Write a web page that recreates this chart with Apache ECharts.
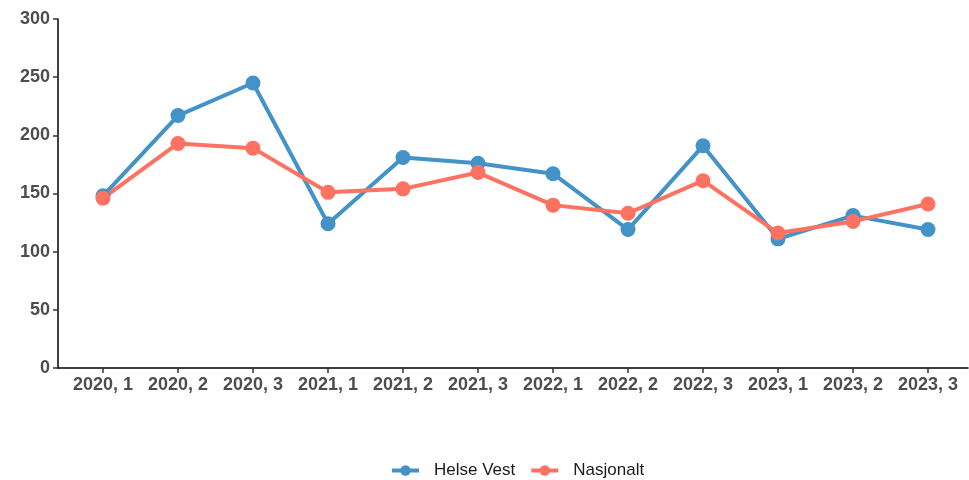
<!DOCTYPE html>
<html><head><meta charset="utf-8">
<script src="https://cdn.jsdelivr.net/npm/echarts@6/dist/echarts.min.js"></script>
<style>html,body{margin:0;padding:0;background:#fff}#c{width:969px;height:480px}</style>
</head><body><div id="c"></div>
<script>
const categories = ['2020, 1','2020, 2','2020, 3','2021, 1','2021, 2','2021, 3','2022, 1','2022, 2','2022, 3','2023, 1','2023, 2','2023, 3'];
const helseVest = [148, 217, 245, 124, 181, 176, 167, 119, 191, 111, 131, 119];
const nasjonalt = [146, 193, 189, 151, 154, 168, 140, 133, 161, 116, 126, 141];
const yTicks = [0, 50, 100, 150, 200, 250, 300];

const chart = echarts.init(document.getElementById('c'));
const lbl = {color:'#4d4d4d', fontWeight:'bold', fontSize:18, fontFamily:'Liberation Sans, Arial, sans-serif'};
chart.setOption({
  animation:false,
  grid:[
    {left:58, right:1, top:19, bottom:112, containLabel:false},
    {left:65.5, right:3.5, top:19, bottom:112, containLabel:false}
  ],
  xAxis:[
    {gridIndex:0, type:'value', min:0, max:1,
      axisLine:{show:true, onZero:false, lineStyle:{color:'#000', width:1.5}},
      axisTick:{show:false}, axisLabel:{show:false}, splitLine:{show:false}},
    {gridIndex:1, type:'category', data:categories, boundaryGap:true,
      axisLine:{show:false, onZero:false},
      axisTick:{show:true, alignWithLabel:true, length:5, lineStyle:{color:'#333', width:1.5}},
      axisLabel:Object.assign({margin:8, interval:0}, lbl),
      splitLine:{show:false}}
  ],
  yAxis:[
    {gridIndex:0, type:'value', min:0, max:300, interval:50,
      axisLine:{show:true, onZero:false, lineStyle:{color:'#000', width:1.5}},
      axisTick:{show:true, length:5, lineStyle:{color:'#333', width:1.5}},
      axisLabel:Object.assign({margin:8, formatter:v => yTicks.includes(v) ? String(v) : ''}, lbl),
      splitLine:{show:false}},
    {gridIndex:1, type:'value', min:0, max:300, show:false}
  ],
  legend:{top:462, left:390, padding:0, itemWidth:27, itemHeight:13, itemGap:14,
    lineStyle:{width:4},
    textStyle:{fontSize:17, color:'#1a1a1a', padding:[0,0,0,10], fontFamily:'Liberation Sans, Arial, sans-serif'},
    data:['Helse Vest','Nasjonalt']},
  series:[
    {name:'Helse Vest', type:'line', xAxisIndex:1, yAxisIndex:1, data:helseVest, symbol:'circle', symbolSize:15,
      lineStyle:{width:4, color:'#4392c8'}, itemStyle:{color:'#4392c8'}},
    {name:'Nasjonalt', type:'line', xAxisIndex:1, yAxisIndex:1, data:nasjonalt, symbol:'circle', symbolSize:15,
      lineStyle:{width:4, color:'#fd7261'}, itemStyle:{color:'#fd7261'}}
  ]
});
</script></body></html>
